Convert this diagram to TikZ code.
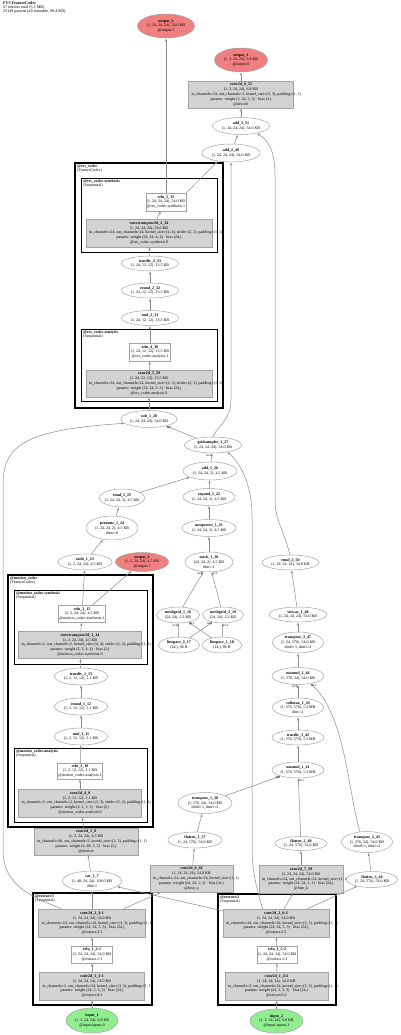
\documentclass[tikz,border=0pt]{standalone}
\usepackage{fontspec}
\setmainfont{Liberation Serif}
\usetikzlibrary{arrows.meta,positioning,shapes.geometric}
\definecolor{edgegray}{HTML}{8A8A8A}
\definecolor{nodeline}{HTML}{A3A3A3}
\definecolor{opgray}{HTML}{D3D3D3}
\definecolor{outred}{HTML}{F08080}
\definecolor{ingreen}{HTML}{90EE90}
\newlength\widelen
\newcommand{\wideline}[2]{\settowidth{\widelen}{#2}\makebox[0pt][c]{\hspace*{\dimexpr\widelen-#1+6pt\relax}#2}}
\newcommand{\graphfont}{\fontsize{4.0}{4.8}\selectfont}
\tikzset{
  opbox/.style={
    draw=nodeline,
    fill=opgray,
    line width=0.5pt,
    rectangle,
    align=center,
    inner sep=1pt,
    minimum height=27pt,
    font=\graphfont
  },
  modbox/.style={
    draw=nodeline,
    fill=white,
    line width=0.5pt,
    rectangle,
    align=center,
    inner sep=1pt,
    minimum height=17pt,
    font=\graphfont
  },
  tensornode/.style={
    draw=nodeline,
    fill=white,
    line width=0.5pt,
    ellipse,
    align=center,
    inner xsep=-2pt,
    inner ysep=0pt,
    minimum height=16pt,
    font=\graphfont
  },
  outnode/.style={tensornode, fill=outred},
  innode/.style={tensornode, fill=ingreen},
  outercluster/.style={draw=black, line width=1.6pt},
  innercluster/.style={draw=black, line width=0.9pt},
  clusterlabel/.style={anchor=north west, align=left, inner sep=0pt, font=\fontsize{4.0}{4.2}\selectfont},
  headertext/.style={anchor=north west, align=left, inner sep=0pt, font=\fontsize{4.1}{4.0}\selectfont},
  flowarrow/.style={-{Latex[length=3pt,width=2.2pt]}, draw=edgegray, line width=0.5pt},
  elabel/.style={font=\fontsize{3.2}{3.5}\selectfont, inner sep=0.4pt}
}

\begin{document}
\begin{tikzpicture}[x=1pt, y=-1pt]
\useasboundingbox (0,0) rectangle (400,1035);

\draw[outercluster] (75,163) rectangle (223,408);
\draw[innercluster] (81,178) rectangle (217,252);
\draw[innercluster] (81,329) rectangle (217,401);
\draw[outercluster] (8,575) rectangle (153,827);
\draw[innercluster] (14,590) rectangle (147,664);
\draw[innercluster] (14,748) rectangle (147,822);
\draw[outercluster] (33,893) rectangle (152,1005);
\draw[outercluster] (218,894) rectangle (336,1005);

\node[clusterlabel] (lbl_res) at (77,164.5) {\textbf{@res\_codec}\\(FeatureCodec)};
\node[clusterlabel] (lbl_res_syn) at (83,179.5) {\textbf{@res\_codec.synthesis}\\(Sequential)};
\node[clusterlabel] (lbl_res_ana) at (83,330.5) {\textbf{@res\_codec.analysis}\\(Sequential)};
\node[clusterlabel] (lbl_mot) at (10,576.5) {\textbf{@motion\_codec}\\(FeatureCodec)};
\node[clusterlabel] (lbl_mot_syn) at (16,591.5) {\textbf{@motion\_codec.synthesis}\\(Sequential)};
\node[clusterlabel] (lbl_mot_ana) at (16,749.5) {\textbf{@motion\_codec.analysis}\\(Sequential)};
\node[clusterlabel] (lbl_ext_1) at (35,894.5) {\textbf{@extract:1}\\(Sequential)};
\node[clusterlabel] (lbl_ext_2) at (220,895.5) {\textbf{@extract:2}\\(Sequential)};

\node[headertext] (title) at (3,1.5) {\textbf{FVCFeatureCodec}\\57 tensors total (5.3 MB)\\23149 params (all trainable, 90.4 KB)};

\node[outnode, minimum width=57pt, minimum height=24pt] (output_3) at (166,26) {\textbf{output\_3}\\(1, 24, 24, 24), 54.0 KB\\@output.2};
\node[outnode, minimum width=53pt, minimum height=24pt] (output_1) at (241,60) {\textbf{output\_1}\\(1, 3, 24, 24), 6.8 KB\\@output.0};
\node[opbox, minimum width=105pt] (conv2d_8_52) at (241,94.5) {\textbf{conv2d\_8\_52}\\(1, 3, 24, 24), 6.8 KB\\\wideline{105pt}{in\_channels=24, out\_channels=3, kernel\_size=(3, 3), padding=(1, 1)}\\params: weight (3, 24, 3, 3) · bias (3,)\\@decode};
\node[tensornode, minimum width=57pt, minimum height=17pt] (add_3_51) at (241,126) {\textbf{add\_3\_51}\\(1, 24, 24, 24), 54.0 KB};
\node[tensornode, minimum width=58pt, minimum height=18pt] (add_2_49) at (231,153) {\textbf{add\_2\_49}\\(1, 24, 24, 24), 54.0 KB};

\node[modbox, minimum width=40pt, minimum height=18pt] (relu_5_35) at (166,202) {\textbf{relu\_5\_35}\\(1, 24, 24, 24), 54.0 KB\\@res\_codec.synthesis.1};
\node[opbox, minimum width=126pt, minimum height=28pt] (convtranspose2d_2_34) at (149,233) {\textbf{convtranspose2d\_2\_34}\\(1, 24, 24, 24), 54.0 KB\\\wideline{126pt}{in\_channels=24, out\_channels=24, kernel\_size=(4, 4), stride=(2, 2), padding=(1, 1)}\\params: weight (24, 24, 4, 4) · bias (24,)\\@res\_codec.synthesis.0};
\node[tensornode, minimum width=57pt, minimum height=15pt] (truediv_2_33) at (150,263.5) {\textbf{truediv\_2\_33}\\(1, 24, 12, 12), 13.5 KB};
\node[tensornode, minimum width=57pt, minimum height=15pt] (round_2_32) at (150,290.5) {\textbf{round\_2\_32}\\(1, 24, 12, 12), 13.5 KB};
\node[tensornode, minimum width=57pt, minimum height=15pt] (mul_2_31) at (150,318) {\textbf{mul\_2\_31}\\(1, 24, 12, 12), 13.5 KB};
\node[modbox, minimum width=41pt, minimum height=18pt] (relu_4_30) at (150,352) {\textbf{relu\_4\_30}\\(1, 24, 12, 12), 13.5 KB\\@res\_codec.analysis.1};
\node[opbox, minimum width=126pt] (conv2d_5_29) at (149,383.5) {\textbf{conv2d\_5\_29}\\(1, 24, 12, 12), 13.5 KB\\\wideline{126pt}{in\_channels=24, out\_channels=24, kernel\_size=(3, 3), stride=(2, 2), padding=(1, 1)}\\params: weight (24, 24, 3, 3) · bias (24,)\\@res\_codec.analysis.0};
\node[tensornode, minimum width=56pt, minimum height=17pt] (sub_1_28) at (149,419) {\textbf{sub\_1\_28}\\(1, 24, 24, 24), 54.0 KB};

\node[tensornode, minimum width=57pt, minimum height=16pt] (gridsampler_1_27) at (213,445) {\textbf{gridsampler\_1\_27}\\(1, 24, 24, 24), 54.0 KB};
\node[tensornode, minimum width=54pt, minimum height=18pt] (add_1_26) at (210,471) {\textbf{add\_1\_26}\\(1, 24, 24, 2), 4.5 KB};
\node[tensornode, minimum width=52pt, minimum height=17pt] (expand_1_22) at (209,497) {\textbf{expand\_1\_22}\\(1, 24, 24, 2), 4.5 KB};
\node[tensornode, minimum width=45pt, minimum height=18pt] (rmul_1_25) at (122,498) {\textbf{rmul\_1\_25}\\(1, 24, 24, 2), 4.5 KB};
\node[tensornode, minimum width=54pt, minimum height=17pt] (unsqueeze_1_21) at (209,528) {\textbf{unsqueeze\_1\_21}\\(1, 24, 24, 2), 4.5 KB};
\node[tensornode, minimum width=52pt, minimum height=24pt] (permute_1_24) at (112,528) {\textbf{permute\_1\_24}\\(1, 24, 24, 2), 4.5 KB\\dims=0};
\node[tensornode, minimum width=48pt, minimum height=20pt] (stack_1_20) at (209,562) {\textbf{stack\_1\_20}\\(24, 24, 2), 4.5 KB\\dim=-1};
\node[tensornode, minimum width=54pt, minimum height=16pt] (tanh_1_23) at (85,562) {\textbf{tanh\_1\_23}\\(1, 2, 24, 24), 4.5 KB};
\node[outnode, minimum width=53pt, minimum height=19pt] (output_2) at (142,562) {\textbf{output\_2}\\(1, 2, 24, 24), 4.5 KB\\@output.1};
\node[tensornode, minimum width=43pt, minimum height=16pt] (meshgrid_1_16) at (178,615) {\textbf{meshgrid\_1\_16}\\(24, 24), 2.2 KB};
\node[tensornode, minimum width=41pt, minimum height=16pt] (meshgrid_2_19) at (223,615) {\textbf{meshgrid\_2\_19}\\(24, 24), 2.2 KB};
\node[tensornode, minimum width=41pt, minimum height=16pt] (linspace_2_17) at (179,645) {\textbf{linspace\_2\_17}\\(24,), 96 B};
\node[tensornode, minimum width=40pt, minimum height=16pt] (linspace_1_18) at (222,645) {\textbf{linspace\_1\_18}\\(24,), 96 B};

\node[modbox, minimum width=41pt, minimum height=17pt] (relu_3_15) at (82,614) {\textbf{relu\_3\_15}\\(1, 2, 24, 24), 4.5 KB\\@motion\_codec.synthesis.1};
\node[opbox, minimum width=123pt] (convtranspose2d_1_14) at (80,645) {\textbf{convtranspose2d\_1\_14}\\(1, 2, 24, 24), 4.5 KB\\\wideline{123pt}{in\_channels=2, out\_channels=2, kernel\_size=(4, 4), stride=(2, 2), padding=(1, 1)}\\params: weight (2, 2, 4, 4) · bias (2,)\\@motion\_codec.synthesis.0};
\node[tensornode, minimum width=53pt, minimum height=17pt] (truediv_1_13) at (81,676.5) {\textbf{truediv\_1\_13}\\(1, 2, 12, 12), 1.1 KB};
\node[tensornode, minimum width=53pt, minimum height=17pt] (round_1_12) at (81,706.5) {\textbf{round\_1\_12}\\(1, 2, 12, 12), 1.1 KB};
\node[tensornode, minimum width=53pt, minimum height=17pt] (mul_1_11) at (81,736.5) {\textbf{mul\_1\_11}\\(1, 2, 12, 12), 1.1 KB};
\node[modbox, minimum width=45pt, minimum height=16pt] (relu_2_10) at (80,771) {\textbf{relu\_2\_10}\\(1, 2, 12, 12), 1.1 KB\\@motion\_codec.analysis.1};
\node[opbox, minimum width=123pt, minimum height=28pt] (conv2d_4_9) at (80,803) {\textbf{conv2d\_4\_9}\\(1, 2, 12, 12), 1.1 KB\\\wideline{123pt}{in\_channels=2, out\_channels=2, kernel\_size=(3, 3), stride=(2, 2), padding=(1, 1)}\\params: weight (2, 2, 3, 3) · bias (2,)\\@motion\_codec.analysis.0};
\node[opbox, minimum width=104pt] (conv2d_3_8) at (86,841.5) {\textbf{conv2d\_3\_8}\\(1, 2, 24, 24), 4.5 KB\\\wideline{104pt}{in\_channels=48, out\_channels=2, kernel\_size=(3, 3), padding=(1, 1)}\\params: weight (2, 48, 3, 3) · bias (2,)\\@motion};
\node[tensornode, minimum width=59pt, minimum height=20pt] (cat_1_7) at (92,881) {\textbf{cat\_1\_7}\\(1, 48, 24, 24), 108.0 KB\\dim=1};

\node[opbox, minimum width=107pt, minimum height=28pt] (conv2d_2_3_1) at (92,923) {\textbf{conv2d\_2\_3:1}\\(1, 24, 24, 24), 54.0 KB\\\wideline{107pt}{in\_channels=24, out\_channels=24, kernel\_size=(3, 3), padding=(1, 1)}\\params: weight (24, 24, 3, 3) · bias (24,)\\@extract.2:1};
\node[modbox, minimum width=41pt, minimum height=17pt] (relu_1_2_1) at (92,954.5) {\textbf{relu\_1\_2:1}\\(1, 24, 24, 24), 54.0 KB\\@extract.1:1};
\node[opbox, minimum width=105pt, minimum height=28pt] (conv2d_1_1_1) at (92,986) {\textbf{conv2d\_1\_1:1}\\(1, 24, 24, 24), 54.0 KB\\\wideline{105pt}{in\_channels=3, out\_channels=24, kernel\_size=(3, 3), padding=(1, 1)}\\params: weight (24, 3, 3, 3) · bias (24,)\\@extract.0:1};
\node[innode, minimum width=52pt, minimum height=25pt] (input_1) at (92,1020.5) {\textbf{input\_1}\\(1, 3, 24, 24), 6.8 KB\\@input.inputs.0};

\node[opbox, minimum width=106pt, minimum height=28pt] (conv2d_2_6_2) at (276,923) {\textbf{conv2d\_2\_6:2}\\(1, 24, 24, 24), 54.0 KB\\\wideline{106pt}{in\_channels=24, out\_channels=24, kernel\_size=(3, 3), padding=(1, 1)}\\params: weight (24, 24, 3, 3) · bias (24,)\\@extract.2:2};
\node[modbox, minimum width=40pt, minimum height=17pt] (relu_1_5_2) at (277,954.5) {\textbf{relu\_1\_5:2}\\(1, 24, 24, 24), 54.0 KB\\@extract.1:2};
\node[opbox, minimum width=103pt, minimum height=28pt] (conv2d_1_4_2) at (276.5,986) {\textbf{conv2d\_1\_4:2}\\(1, 24, 24, 24), 54.0 KB\\\wideline{103pt}{in\_channels=3, out\_channels=24, kernel\_size=(3, 3), padding=(1, 1)}\\params: weight (24, 3, 3, 3) · bias (24,)\\@extract.0:2};
\node[innode, minimum width=53pt, minimum height=24pt] (input_2) at (276.5,1021) {\textbf{input\_2}\\(1, 3, 24, 24), 6.8 KB\\@input.inputs.1};

\node[opbox, minimum width=83pt] (conv2d_6_36) at (191.5,878.5) {\textbf{conv2d\_6\_36}\\(1, 24, 24, 24), 54.0 KB\\\wideline{83pt}{in\_channels=24, out\_channels=24, kernel\_size=(1, 1)}\\params: weight (24, 24, 1, 1) · bias (24,)\\@fuse\_q};
\node[opbox, minimum width=84pt, minimum height=28pt] (conv2d_7_39) at (301,879) {\textbf{conv2d\_7\_39}\\(1, 24, 24, 24), 54.0 KB\\\wideline{84pt}{in\_channels=24, out\_channels=24, kernel\_size=(1, 1)}\\params: weight (24, 24, 1, 1) · bias (24,)\\@fuse\_k};
\node[tensornode, minimum width=51pt, minimum height=16pt] (flatten_3_44) at (372,879.5) {\textbf{flatten\_3\_44}\\(1, 24, 576), 54.0 KB};
\node[tensornode, minimum width=54pt, minimum height=16pt] (flatten_1_37) at (195,840) {\textbf{flatten\_1\_37}\\(1, 24, 576), 54.0 KB};
\node[tensornode, minimum width=54pt, minimum height=21pt] (transpose_1_38) at (205,803) {\textbf{transpose\_1\_38}\\(1, 576, 24), 54.0 KB\\dim0=1, dim1=2};
\node[tensornode, minimum width=52pt, minimum height=14pt] (flatten_2_40) at (301,843.5) {\textbf{flatten\_2\_40}\\(1, 24, 576), 54.0 KB};
\node[tensornode, minimum width=51pt, minimum height=21pt] (transpose_2_45) at (367,842) {\textbf{transpose\_2\_45}\\(1, 576, 24), 54.0 KB\\dim0=1, dim1=2};
\node[tensornode, minimum width=52pt, minimum height=16pt] (matmul_1_41) at (298,770) {\textbf{matmul\_1\_41}\\(1, 576, 576), 1.3 MB};
\node[tensornode, minimum width=52pt, minimum height=15pt] (truediv_3_42) at (298,737.5) {\textbf{truediv\_3\_42}\\(1, 576, 576), 1.3 MB};
\node[tensornode, minimum width=51pt, minimum height=19pt] (softmax_1_43) at (298,707.5) {\textbf{softmax\_1\_43}\\(1, 576, 576), 1.3 MB\\dim=-1};
\node[tensornode, minimum width=52pt, minimum height=17pt] (matmul_2_46) at (298,676) {\textbf{matmul\_2\_46}\\(1, 576, 24), 54.0 KB};
\node[tensornode, minimum width=51pt, minimum height=21pt] (transpose_3_47) at (298,642.5) {\textbf{transpose\_3\_47}\\(1, 24, 576), 54.0 KB\\dim0=1, dim1=2};
\node[tensornode, minimum width=58pt, minimum height=15pt] (viewas_1_48) at (298,614.5) {\textbf{viewas\_1\_48}\\(1, 24, 24, 24), 54.0 KB};
\node[tensornode, minimum width=57pt, minimum height=15pt] (rmul_2_50) at (290.5,562.5) {\textbf{rmul\_2\_50}\\(1, 24, 24, 24), 54.0 KB};

\draw[flowarrow] (input_1) -- (conv2d_1_1_1);
\draw[flowarrow] (conv2d_1_1_1) -- (relu_1_2_1);
\draw[flowarrow] (relu_1_2_1) -- (conv2d_2_3_1);
\draw[flowarrow] (input_2) -- (conv2d_1_4_2);
\draw[flowarrow] (conv2d_1_4_2) -- (relu_1_5_2);
\draw[flowarrow] (relu_1_5_2) -- (conv2d_2_6_2);
\draw[flowarrow] (conv2d_2_3_1) -- (cat_1_7);
\draw[flowarrow] (conv2d_2_6_2) -- (cat_1_7);
\draw[flowarrow] (cat_1_7) -- (conv2d_3_8);
\draw[flowarrow] (conv2d_3_8) -- (conv2d_4_9);
\draw[flowarrow] (conv2d_4_9) -- (relu_2_10);
\draw[flowarrow] (relu_2_10) -- (mul_1_11);
\draw[flowarrow] (mul_1_11) -- (round_1_12);
\draw[flowarrow] (round_1_12) -- (truediv_1_13);
\draw[flowarrow] (truediv_1_13) -- (convtranspose2d_1_14);
\draw[flowarrow] (convtranspose2d_1_14) -- (relu_3_15);
\draw[flowarrow] (relu_3_15) -- (tanh_1_23);
\draw[flowarrow] (relu_3_15) -- (output_2);
\draw[flowarrow] (tanh_1_23) -- (permute_1_24);
\draw[flowarrow] (permute_1_24) -- (rmul_1_25);
\draw[flowarrow] (rmul_1_25) -- (add_1_26);
\draw[flowarrow] (linspace_2_17) -- node[elabel, pos=1, below left] {in:0} (meshgrid_1_16);
\draw[flowarrow] (linspace_1_18) -- node[elabel, pos=1, below right] {in:1} (meshgrid_1_16);
\draw[flowarrow] (linspace_2_17) -- node[elabel, pos=1, below left] {in:0} (meshgrid_2_19);
\draw[flowarrow] (linspace_1_18) -- node[elabel, pos=1, below right] {in:1} (meshgrid_2_19);
\draw[flowarrow] (meshgrid_1_16) -- node[elabel, pos=1, below left] {in:0} (stack_1_20);
\draw[flowarrow] (meshgrid_2_19) -- node[elabel, pos=1, below right] {in:1} (stack_1_20);
\draw[flowarrow] (stack_1_20) -- (unsqueeze_1_21);
\draw[flowarrow] (unsqueeze_1_21) -- (expand_1_22);
\draw[flowarrow] (expand_1_22) -- (add_1_26);
\draw[flowarrow] (add_1_26) -- node[elabel, pos=1, below left] {in:1} (gridsampler_1_27);
\draw[flowarrow] (conv2d_2_6_2.133) .. controls (258,895) and (252,870) .. (252,850) -- (252,515) .. controls (252,485) and (240,462) .. (gridsampler_1_27.-27);
\draw[flowarrow] (gridsampler_1_27) -- node[elabel, pos=1, below right] {in:1} (sub_1_28);
\draw[flowarrow] (conv2d_2_3_1.155) .. controls (30,896) and (3,885) .. (3,850) -- (3,485) .. controls (3,445) and (25,430) .. (sub_1_28.190);
\draw[flowarrow] (sub_1_28) -- (conv2d_5_29);
\draw[flowarrow] (conv2d_5_29) -- (relu_4_30);
\draw[flowarrow] (relu_4_30) -- (mul_2_31);
\draw[flowarrow] (mul_2_31) -- (round_2_32);
\draw[flowarrow] (round_2_32) -- (truediv_2_33);
\draw[flowarrow] (truediv_2_33) -- (convtranspose2d_2_34);
\draw[flowarrow] (convtranspose2d_2_34) -- (relu_5_35);
\draw[flowarrow] (relu_5_35) -- (output_3);
\draw[flowarrow] (relu_5_35.north east) -- (add_2_49.-148);
\draw[flowarrow] (gridsampler_1_27.north) .. controls (218,425) and (231,420) .. (231,400) -- (add_2_49.south);
\draw[flowarrow] (add_2_49) -- (add_3_51);
\draw[flowarrow] (conv2d_2_3_1) -- (conv2d_6_36);
\draw[flowarrow] (conv2d_6_36) -- (flatten_1_37);
\draw[flowarrow] (flatten_1_37) -- (transpose_1_38);
\draw[flowarrow] (transpose_1_38) -- node[elabel, pos=1, below left] {in:0} (matmul_1_41);
\draw[flowarrow] (conv2d_2_6_2) -- (conv2d_7_39);
\draw[flowarrow] (conv2d_7_39) -- (flatten_2_40);
\draw[flowarrow] (flatten_2_40) -- node[elabel, pos=1, below right] {in:1} (matmul_1_41);
\draw[flowarrow] (matmul_1_41) -- (truediv_3_42);
\draw[flowarrow] (truediv_3_42) -- (softmax_1_43);
\draw[flowarrow] (softmax_1_43) -- node[elabel, pos=1, below left] {in:0} (matmul_2_46);
\draw[flowarrow] (conv2d_2_6_2) -- (flatten_3_44);
\draw[flowarrow] (flatten_3_44) -- (transpose_2_45);
\draw[flowarrow] (transpose_2_45.125) .. controls (348,790) and (345,715) .. node[elabel, pos=1, below right] {in:1} (matmul_2_46.-31);
\draw[flowarrow] (matmul_2_46) -- (transpose_3_47);
\draw[flowarrow] (transpose_3_47) -- (viewas_1_48);
\draw[flowarrow] (viewas_1_48) -- (rmul_2_50);
\draw[flowarrow] (rmul_2_50.95) .. controls (284,530) and (275,520) .. (275,500) -- (275,175) .. controls (275,150) and (268,140) .. (add_3_51.-25);
\draw[flowarrow] (add_3_51) -- (conv2d_8_52);
\draw[flowarrow] (conv2d_8_52) -- (output_1);
\end{tikzpicture}
\end{document}
